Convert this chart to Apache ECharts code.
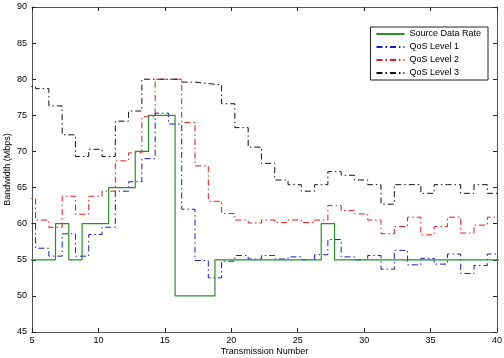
<!DOCTYPE html>
<html><head><meta charset="utf-8">
<script src="https://cdn.jsdelivr.net/npm/echarts@6/dist/echarts.min.js"></script>
<style>html,body{margin:0;padding:0;background:#fff}#c{width:504px;height:358px}</style>
</head><body><div id="c"></div>
<script>
// transmission numbers at which each source level begins (held until next)
const sourceX = [4.77,5.77,6.77,7.77,8.77,9.77,10.77,11.77,12.77,13.77,14.77,15.77,16.77,17.77,18.77,19.77,20.77,21.77,22.77,23.77,24.77,25.77,26.77,27.77,28.77,29.77,30.77,31.77,32.77,33.77,34.77,35.77,36.77,37.77,38.77,39.77,40.77];
const sourceRate = [55,55,60,55,60,60,65,65,70,75,75,50,50,50,55,55,55,55,55,55,55,55,60,55,55,55,55,55,55,55,55,55,55,55,55,55,55];
// transmission numbers at which each QoS level begins
const qosX = [4.27,5.27,6.27,7.27,8.27,9.27,10.27,11.27,12.27,13.27,14.27,15.27,16.27,17.27,18.27,19.27,20.27,21.27,22.27,23.27,24.27,25.27,26.27,27.27,28.27,29.27,30.27,31.27,32.27,33.27,34.27,35.27,36.27,37.27,38.27,39.27,40.27];
const qos1 = [60,56.6,55.5,58.6,55.5,58.5,59.5,64.5,65.8,69.0,75.3,73.8,62.0,54.9,52.5,54.8,55.6,55.1,55.6,55.1,55.4,55.0,55.7,57.8,55.4,55.0,55.6,53.7,56.3,54.3,55.2,54.4,55.8,53.1,54.2,55.8,55.8];
const qos2 = [63.5,60.5,59.5,63.8,61.3,63.8,64.5,68.7,69.8,74.8,80.0,80.0,74.0,68.0,63.1,61.4,60.5,60.1,60.5,60.15,60.5,60.15,60.5,62.5,61.8,61.35,60.5,58.6,59.6,60.9,58.45,59.6,60.9,58.7,59.8,60.9,60.9];
const qos3 = [79.0,78.7,76.3,72.3,69.3,70.3,69.3,74.2,75.6,80.0,80.0,80.0,79.6,79.4,79.2,76.6,73.3,70.6,68.35,66.05,65.4,64.5,65.4,67.2,66.7,66.05,65.4,62.7,65.4,65.4,64.2,65.4,65.4,64.2,65.4,64.2,64.2];
const seriesNames = ['Source Data Rate','QoS Level 1','QoS Level 2','QoS Level 3'];
const xTicks = [5,40,5];   // min, max, interval
const yTicks = [45,90,5];

const pair = (xs, ys) => xs.map((x, i) => [x, ys[i]]);
const dashDot = [6,3,1.5,3];
const font = 'Liberation Sans, Arial, sans-serif';

const chart = echarts.init(document.getElementById('c'), null, {renderer:'canvas'});
const axisLine = {show:true, lineStyle:{color:'#555', width:1}};
const tick = {show:true, inside:true, length:4, lineStyle:{color:'#222'}};
chart.setOption({
  animation:false,
  backgroundColor:'#fff',
  grid:{left:32, right:7, top:7, bottom:26, containLabel:false, outerBoundsMode:'none'},
  legend:{
    orient:'vertical', right:16, top:27,
    backgroundColor:'#fff', borderColor:'#222', borderWidth:1,
    padding:[2,7,2,5], itemGap:3, itemWidth:28, itemHeight:10,
    itemStyle:{opacity:0},
    textStyle:{fontFamily:font, fontSize:9, color:'#000', lineHeight:10},
    data: seriesNames
  },
  xAxis:[
    {type:'value', min:xTicks[0], max:xTicks[1], interval:xTicks[2],
     name:'Transmission Number', nameLocation:'middle', nameGap:15, nameMoveOverlap:false,
     nameTextStyle:{fontFamily:font, fontSize:9, color:'#000'},
     axisLine, axisTick:tick, splitLine:{show:false},
     axisLabel:{fontFamily:font, fontSize:9, color:'#000', margin:4}},
    {type:'value', position:'top', min:xTicks[0], max:xTicks[1], interval:xTicks[2],
     axisLine, axisTick:tick, splitLine:{show:false}, axisLabel:{show:false}}
  ],
  yAxis:[
    {type:'value', min:yTicks[0], max:yTicks[1], interval:yTicks[2],
     name:'Bandwidth (Mbps)', nameLocation:'middle', nameGap:24, nameMoveOverlap:false,
     nameTextStyle:{fontFamily:font, fontSize:9, color:'#000', verticalAlign:'middle'},
     axisLine, axisTick:tick, splitLine:{show:false},
     axisLabel:{fontFamily:font, fontSize:9, color:'#000', margin:5}},
    {type:'value', position:'right', min:yTicks[0], max:yTicks[1], interval:yTicks[2],
     axisLine, axisTick:tick, splitLine:{show:false}, axisLabel:{show:false}}
  ],
  series:[
    {name:seriesNames[0], type:'line', step:'end', symbol:'none', data:pair(sourceX, sourceRate),
     lineStyle:{color:'#2a8f2a', width:1.2}, itemStyle:{color:'#2a8f2a'}, z:5},
    {name:seriesNames[1], type:'line', step:'end', symbol:'none', data:pair(qosX, qos1),
     lineStyle:{color:'#1a1ad0', width:1, type:dashDot}, itemStyle:{color:'#1a1ad0'}},
    {name:seriesNames[2], type:'line', step:'end', symbol:'none', data:pair(qosX, qos2),
     lineStyle:{color:'#e01a1a', width:1, type:dashDot}, itemStyle:{color:'#e01a1a'}},
    {name:seriesNames[3], type:'line', step:'end', symbol:'none', data:pair(qosX, qos3),
     lineStyle:{color:'#111', width:1, type:dashDot}, itemStyle:{color:'#111'}}
  ]
});
</script></body></html>
